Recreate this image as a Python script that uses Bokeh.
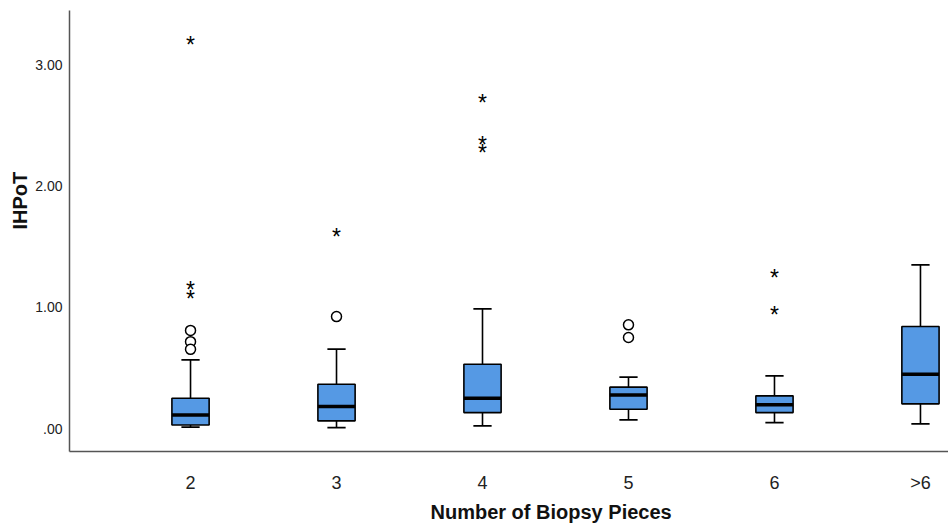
import math
from bokeh.plotting import figure
from bokeh.models import Range1d, FixedTicker, ColumnDataSource, Title
from bokeh.core.properties import value
from bokeh.embed import file_html
from bokeh.resources import INLINE

# ---- data ----
categories = ["2", "3", "4", "5", "6", ">6"]
lower_whisker = [0.012, 0.008, 0.022, 0.072, 0.050, 0.039]
q1 = [0.030, 0.064, 0.132, 0.160, 0.132, 0.204]
median = [0.113, 0.182, 0.250, 0.278, 0.196, 0.449]
q3 = [0.250, 0.366, 0.531, 0.342, 0.270, 0.842]
upper_whisker = [0.567, 0.655, 0.988, 0.424, 0.435, 1.351]

outlier_cat = ["2", "2", "2", "3", "5", "5"]
outlier_val = [0.810, 0.717, 0.654, 0.924, 0.856, 0.751]

extreme_cat = ["2", "2", "2", "3", "4", "4", "4", "6", "6"]
extreme_val = [3.180, 1.158, 1.084, 1.593, 2.704, 2.360, 2.286, 1.262, 0.957]

y_ticks = [0, 1, 2, 3]
y_tick_labels = [".00", "1.00", "2.00", "3.00"]

x_title = "Number of Biopsy Pieces"
y_title = "IHPoT"

# ---- layout ----
BOX_W = 0.255
CAP_W = 0.125
FILL = "#5599E4"
NARROW = "Liberation Sans Narrow, Arial Narrow, Liberation Sans, sans-serif"

pos = {c: i for i, c in enumerate(categories)}
xs = [pos[c] for c in categories]

p = figure(width=948, height=525, output_backend="svg", toolbar_location=None,
           x_range=Range1d(-0.829, 5.192), y_range=Range1d(-0.189, 3.449),
           min_border_left=69, min_border_right=0, min_border_top=10,
           min_border_bottom=73)
p.outline_line_color = None
p.grid.visible = False
p.background_fill_color = "white"
p.border_fill_color = "white"

box_src = ColumnDataSource(dict(x=xs, lo=lower_whisker, q1=q1, med=median, q3=q3,
                                hi=upper_whisker,
                                cl=[x - CAP_W / 2 for x in xs],
                                cr=[x + CAP_W / 2 for x in xs],
                                bl=[x - BOX_W / 2 for x in xs],
                                br=[x + BOX_W / 2 for x in xs]))

# whiskers
p.segment(x0="x", y0="q3", x1="x", y1="hi", source=box_src, line_color="black", line_width=1.6)
p.segment(x0="x", y0="q1", x1="x", y1="lo", source=box_src, line_color="black", line_width=1.6)
p.segment(x0="cl", y0="hi", x1="cr", y1="hi", source=box_src, line_color="black", line_width=1.8)
p.segment(x0="cl", y0="lo", x1="cr", y1="lo", source=box_src, line_color="black", line_width=1.8)
# boxes
p.vbar(x="x", width=BOX_W, bottom="q1", top="q3", source=box_src,
       fill_color=FILL, line_color="black", line_width=1.6)
# medians
p.segment(x0="bl", y0="med", x1="br", y1="med", source=box_src, line_color="black", line_width=3.5)

# outliers (circles)
p.scatter(x=[pos[c] for c in outlier_cat], y=outlier_val, marker="circle", size=10,
          fill_color="white", line_color="black", line_width=1.5)

# extremes (asterisks)
p.text(x=[pos[c] for c in extreme_cat], y=extreme_val, text=["*"] * len(extreme_val),
       text_align="center", text_baseline="middle", y_offset=2,
       text_font=value("Liberation Sans"), text_font_size="23px", text_color="black")

# axes
for ax in (p.xaxis[0], p.yaxis[0]):
    ax.axis_line_color = "#555555"
    ax.axis_line_width = 1.5
    ax.major_tick_in = 0
    ax.major_tick_out = 0
    ax.minor_tick_line_color = None
    ax.major_tick_line_color = None

p.xaxis.ticker = FixedTicker(ticks=xs)
p.xaxis.major_label_overrides = {i: c for i, c in enumerate(categories)}
p.xaxis.major_label_text_font = NARROW
p.xaxis.major_label_text_font_size = "18px"
p.xaxis.major_label_text_color = "#222222"
p.xaxis.major_label_standoff = 21

p.yaxis.ticker = FixedTicker(ticks=y_ticks)
p.yaxis.major_label_overrides = dict(zip(y_ticks, y_tick_labels))
p.yaxis.major_label_text_font = "Liberation Sans"
p.yaxis.major_label_text_font_size = "14px"
p.yaxis.major_label_text_color = "#222222"
p.yaxis.major_label_standoff = 7

# axis titles (as titles, so they can sit off-centre like the reference)
p.add_layout(Title(text=x_title, align="left", offset=361, standoff=6,
                   text_font=NARROW, text_font_style="bold", text_font_size="20px",
                   text_color="#111111"), "below")
p.add_layout(Title(text=y_title, align="left", offset=222, standoff=4,
                   text_font="Liberation Sans", text_font_style="bold",
                   text_font_size="20px", text_color="#111111"), "left")

open("out.html", "w").write(file_html(p, INLINE))
